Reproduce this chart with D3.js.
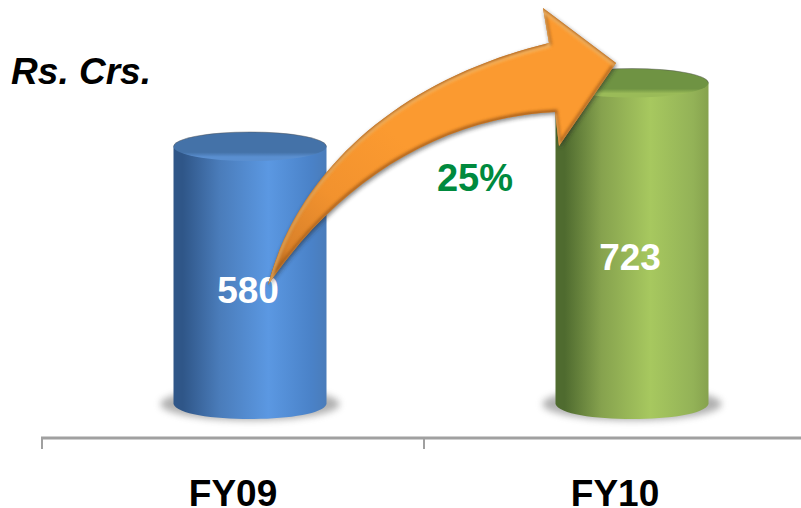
<!DOCTYPE html>
<html><head><meta charset="utf-8">
<script src="https://cdn.jsdelivr.net/npm/d3@7/dist/d3.min.js"></script>
<style>html,body{margin:0;padding:0;background:#fff}svg{display:block}text{font-family:"Liberation Sans",Arial,sans-serif;font-weight:bold}</style>
</head><body><svg id="c" width="801" height="508"></svg>
<script>
const categories = ["FY09","FY10"];
const values = [580,723];
const growthLabel = "25%";
const unitLabel = "Rs. Crs.";
const palettes = [
 {edge:"#2f5688",mid:"#4a7cba",light:"#5b98e2",right:"#4a82c8",top:"#4472a8",rim:"#5a8fd0"},
 {edge:"#4f6b2f",mid:"#86a24e",light:"#a7c85f",right:"#93b257",top:"#6f9343",rim:"#9abb58"}
];
const W=801,H=508;
const svg=d3.select("#c");
const x=d3.scaleBand().domain(categories).range([42,806]);
const y=d3.scaleLinear().domain([0,723]).range([404,83]);
const shift=17, rx=76.5, ry=14.5;
const defs=svg.append("defs");
const blur=(id,s)=>defs.append("filter").attr("id",id).attr("x","-30%").attr("y","-30%").attr("width","160%").attr("height","160%").append("feGaussianBlur").attr("stdDeviation",s);
blur("b3",3.5);blur("b2",2);blur("b1",1.4);
palettes.forEach((p,i)=>{
 const g=defs.append("linearGradient").attr("id","body"+i);
 [[0,p.edge],[.06,p.edge],[.3,p.mid],[.62,p.light],[.9,p.right],[1,p.mid]].forEach(s=>g.append("stop").attr("offset",s[0]).attr("stop-color",s[1]));
 const t=defs.append("linearGradient").attr("id","top"+i).attr("x1",0).attr("y1",1).attr("x2",0).attr("y2",0);
 [[0,p.rim],[.14,p.rim],[.3,p.top],[1,p.top]].forEach(s=>t.append("stop").attr("offset",s[0]).attr("stop-color",s[1]));
});
const ag=defs.append("linearGradient").attr("id","arrowG").attr("gradientUnits","userSpaceOnUse").attr("x1",270).attr("y1",285).attr("x2",400).attr("y2",140);
[[0,"#9a5414"],[.2,"#d9812a"],[.55,"#f2922e"],[1,"#fb9a30"]].forEach(s=>ag.append("stop").attr("offset",s[0]).attr("stop-color",s[1]));

// axis
const axisG=svg.append("g").attr("stroke","#a0a0a0").attr("stroke-width",3);
axisG.append("line").attr("x1",x.range()[0]-1).attr("x2",W).attr("y1",438).attr("y2",438);
axisG.selectAll("line.tick").data(categories).join("line").attr("class","tick").attr("stroke-width",2)
 .attr("x1",d=>x(d)).attr("x2",d=>x(d)).attr("y1",438).attr("y2",449);

// cylinders
const cyl=svg.selectAll("g.cyl").data(values).join("g").attr("class","cyl");
cyl.each(function(v,i){
 const g=d3.select(this), cx=x(categories[i])+x.bandwidth()/2+shift;
 const yb=y(0), yt=y(v);
 g.append("ellipse").attr("cx",cx).attr("cy",yb).attr("rx",rx+13).attr("ry",ry+2).attr("fill","#707070").attr("opacity",.55).attr("filter","url(#b3)");
 const p=d3.path();
 p.moveTo(cx-rx,yt);p.lineTo(cx-rx,yb);
 p.bezierCurveTo(cx-rx+6,yb+20,cx+rx-6,yb+20,cx+rx,yb);
 p.lineTo(cx+rx,yt);p.closePath();
 g.append("path").attr("d",p.toString()).attr("fill",`url(#body${i})`);
 g.append("ellipse").attr("cx",cx).attr("cy",yt).attr("rx",rx).attr("ry",ry).attr("fill",`url(#top${i})`);
 g.append("path").attr("d",`M${cx-rx},${yt}A${rx},${ry} 0 0 1 ${cx+rx},${yt}`).attr("fill","none").attr("stroke","#555").attr("stroke-opacity",.45).attr("stroke-width",1);
});

// text under the arrow
const label=(t,xx,yy,size,fill)=>svg.append("text").attr("x",xx).attr("y",yy).attr("font-size",size).attr("fill",fill).attr("text-anchor","middle").text(t);
const centre=c=>x(c)+x.bandwidth()/2;
categories.forEach(c=>label(c,centre(c),506,37,"#000"));
label(values[0],248,303,37,"#fff");
label(values[1],630,270,37,"#fff");
label(growthLabel,475,191,38,"#008a3e");
label(unitLabel,81,84,37,"#000").attr("font-style","italic");

// growth arrow (annotation, runs from the FY09 cylinder to the FY10 one)
const tail=[268,285], tip=[616,63];
const arrow=d3.path();
arrow.moveTo(...tail);
arrow.bezierCurveTo(296,178,390,82,549,43);
arrow.lineTo(543,8);
arrow.lineTo(...tip);
arrow.lineTo(559,146);
arrow.lineTo(555,112);
arrow.bezierCurveTo(440,118,339,181,268,285);
arrow.closePath();
const ad=arrow.toString();
svg.append("path").attr("d",ad).attr("fill","#222").attr("opacity",.55).attr("transform","translate(1,2)").attr("filter","url(#b2)");
svg.append("path").attr("d",ad).attr("fill","url(#arrowG)");
defs.append("clipPath").attr("id","ac").append("path").attr("d",ad);
const bevel=svg.append("g").attr("clip-path","url(#ac)");
bevel.append("path").attr("d",ad).attr("fill","none").attr("stroke","#9a5412").attr("stroke-width",5).attr("opacity",.8).attr("filter","url(#b1)");
bevel.append("path").attr("d",ad).attr("fill","none").attr("stroke","#ffc878").attr("stroke-width",3).attr("opacity",.75).attr("transform","translate(0,3)").attr("filter","url(#b1)");
</script></body></html>
